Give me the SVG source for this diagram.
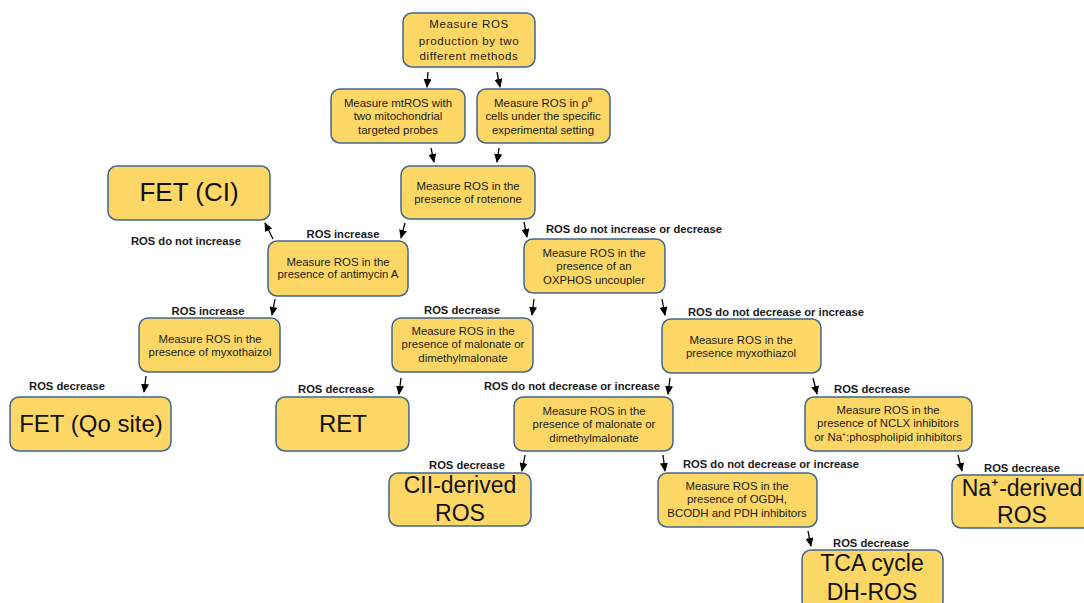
<svg xmlns="http://www.w3.org/2000/svg" width="1084" height="603" viewBox="0 0 1084 603">
<style>
.box{fill:#fdd766;stroke:#41658f;stroke-width:1.5}
.t{font-family:"Liberation Sans",Arial,sans-serif;font-size:11.4px;fill:#1a1a1a;text-anchor:middle}
.big{font-family:"Liberation Sans",Arial,sans-serif;font-size:24px;fill:#111;text-anchor:middle}
.lbl{font-family:"Liberation Sans",Arial,sans-serif;font-size:11.2px;font-weight:bold;fill:#1a1a1a;text-anchor:middle}
.c{stroke:#000;stroke-width:1.3;fill:none;marker-end:url(#ah)}
</style>
<defs>
<marker id="ah" viewBox="0 0 10 10" refX="9" refY="5" markerWidth="9" markerHeight="8" markerUnits="userSpaceOnUse" orient="auto" preserveAspectRatio="none">
<path d="M0,0 L10,5 L0,10 Z" fill="#000"/>
</marker>
</defs>
<rect width="1084" height="603" fill="#fff"/>

<g id="n-top"><rect class="box" x="403" y="13" width="132" height="54" rx="9"/>
<text class="t" style="font-size:11.5px;letter-spacing:0.6px"><tspan x="469" y="28">Measure ROS</tspan><tspan x="469" y="45">production by two</tspan><tspan x="469" y="60">different methods</tspan></text></g>

<g id="n-mtros"><rect class="box" x="331" y="89" width="134" height="54" rx="9"/>
<text class="t"><tspan x="398" y="107">Measure mtROS with</tspan><tspan x="398" y="120">two mitochondrial</tspan><tspan x="398" y="134">targeted probes</tspan></text></g>

<g id="n-rho"><rect class="box" x="477" y="89" width="133" height="54" rx="9"/>
<text class="t"><tspan x="543" y="107">Measure ROS in ρ⁰</tspan><tspan x="543" y="120">cells under the specific</tspan><tspan x="543" y="134">experimental setting</tspan></text></g>

<g id="n-rotenone"><rect class="box" x="401" y="166" width="134" height="53" rx="9"/>
<text class="t"><tspan x="468" y="190">Measure ROS in the</tspan><tspan x="468" y="203">presence of rotenone</tspan></text></g>

<g id="n-fetci"><rect class="box" x="108" y="166" width="162" height="54" rx="9"/>
<text class="big" x="189" y="201" style="font-size:26px">FET (CI)</text></g>

<g id="n-antimycin"><rect class="box" x="268" y="241" width="140" height="55" rx="9"/>
<text class="t"><tspan x="338" y="266">Measure ROS in the</tspan><tspan x="338" y="278">presence of antimycin A</tspan></text></g>

<g id="n-uncoupler"><rect class="box" x="524" y="239" width="141" height="54" rx="9"/>
<text class="t"><tspan x="594" y="257">Measure ROS in the</tspan><tspan x="594" y="270">presence of an</tspan><tspan x="594" y="284">OXPHOS uncoupler</tspan></text></g>

<g id="n-myxo1"><rect class="box" x="139" y="318" width="141" height="54" rx="9"/>
<text class="t"><tspan x="210" y="343">Measure ROS in the</tspan><tspan x="210" y="356">presence of myxothaizol</tspan></text></g>

<g id="n-malonate1"><rect class="box" x="392" y="318" width="141" height="54" rx="9"/>
<text class="t"><tspan x="463" y="335">Measure ROS in the</tspan><tspan x="463" y="348">presence of malonate or</tspan><tspan x="463" y="362">dimethylmalonate</tspan></text></g>

<g id="n-myxo2"><rect class="box" x="662" y="319" width="159" height="54" rx="9"/>
<text class="t"><tspan x="741" y="344">Measure ROS in the</tspan><tspan x="741" y="357">presence myxothiazol</tspan></text></g>

<g id="n-fetqo"><rect class="box" x="10" y="397" width="161" height="54" rx="9"/>
<text class="big" x="91" y="432">FET (Qo site)</text></g>

<g id="n-ret"><rect class="box" x="276" y="397" width="133" height="54" rx="9"/>
<text class="big" x="343" y="432">RET</text></g>

<g id="n-malonate2"><rect class="box" x="514" y="397" width="159" height="54" rx="9"/>
<text class="t"><tspan x="594" y="415">Measure ROS in the</tspan><tspan x="594" y="428">presence of malonate or</tspan><tspan x="594" y="442">dimethylmalonate</tspan></text></g>

<g id="n-nclx"><rect class="box" x="805" y="397" width="167" height="54" rx="9"/>
<text class="t"><tspan x="888" y="414">Measure ROS in the</tspan><tspan x="888" y="427">presence of NCLX inhibitors</tspan><tspan x="888" y="441">or Na⁺:phospholipid inhibitors</tspan></text></g>

<g id="n-cii"><rect class="box" x="389" y="473" width="142" height="53" rx="9"/>
<text class="big" style="font-size:23px"><tspan x="460" y="493">CII-derived</tspan><tspan x="460" y="521">ROS</tspan></text></g>

<g id="n-ogdh"><rect class="box" x="658" y="473" width="159" height="54" rx="9"/>
<text class="t"><tspan x="737" y="490">Measure ROS in the</tspan><tspan x="737" y="503">presence of OGDH,</tspan><tspan x="737" y="517">BCODH and PDH inhibitors</tspan></text></g>

<g id="n-na"><rect class="box" x="952" y="475" width="142" height="53" rx="9"/>
<text class="big" style="font-size:23px"><tspan x="1022" y="496">Na⁺-derived</tspan><tspan x="1022" y="523">ROS</tspan></text></g>

<g id="n-tca"><rect class="box" x="802" y="550" width="141" height="60" rx="9"/>
<text class="big" style="font-size:23px"><tspan x="872" y="571">TCA cycle</tspan><tspan x="872" y="600">DH-ROS</tspan></text></g>

<g id="labels">
<text class="lbl" x="186" y="245">ROS do not increase</text>
<text class="lbl" x="343" y="238">ROS increase</text>
<text class="lbl" x="634" y="233">ROS do not increase or decrease</text>
<text class="lbl" x="208" y="315">ROS increase</text>
<text class="lbl" x="462" y="314">ROS decrease</text>
<text class="lbl" x="776" y="316">ROS do not decrease or increase</text>
<text class="lbl" x="67" y="390">ROS decrease</text>
<text class="lbl" x="336" y="393">ROS decrease</text>
<text class="lbl" x="572" y="390">ROS do not decrease or increase</text>
<text class="lbl" x="872" y="393">ROS decrease</text>
<text class="lbl" x="467" y="469">ROS decrease</text>
<text class="lbl" x="771" y="468">ROS do not decrease or increase</text>
<text class="lbl" x="1022" y="472">ROS decrease</text>
<text class="lbl" x="871" y="547">ROS decrease</text>
</g>

<g id="connectors">
<line class="c" x1="428" y1="72" x2="427" y2="87"/>
<line class="c" x1="497" y1="72" x2="500" y2="87"/>
<line class="c" x1="431" y1="148" x2="434" y2="162"/>
<line class="c" x1="499" y1="148" x2="497" y2="162"/>
<line class="c" x1="405" y1="223" x2="401" y2="238"/>
<line class="c" x1="524" y1="222" x2="527" y2="237"/>
<line class="c" x1="273" y1="239" x2="265" y2="223"/>
<line class="c" x1="275" y1="299" x2="272" y2="315"/>
<line class="c" x1="534" y1="299" x2="532" y2="315"/>
<line class="c" x1="662" y1="299" x2="665" y2="315"/>
<line class="c" x1="146" y1="376" x2="144" y2="392"/>
<line class="c" x1="401" y1="378" x2="399" y2="394"/>
<line class="c" x1="670" y1="378" x2="668" y2="394"/>
<line class="c" x1="813" y1="378" x2="817" y2="394"/>
<line class="c" x1="525" y1="455" x2="522" y2="471"/>
<line class="c" x1="663" y1="455" x2="665" y2="471"/>
<line class="c" x1="958" y1="455" x2="962" y2="471"/>
<line class="c" x1="808" y1="531" x2="811" y2="546"/>
</g>
</svg>
